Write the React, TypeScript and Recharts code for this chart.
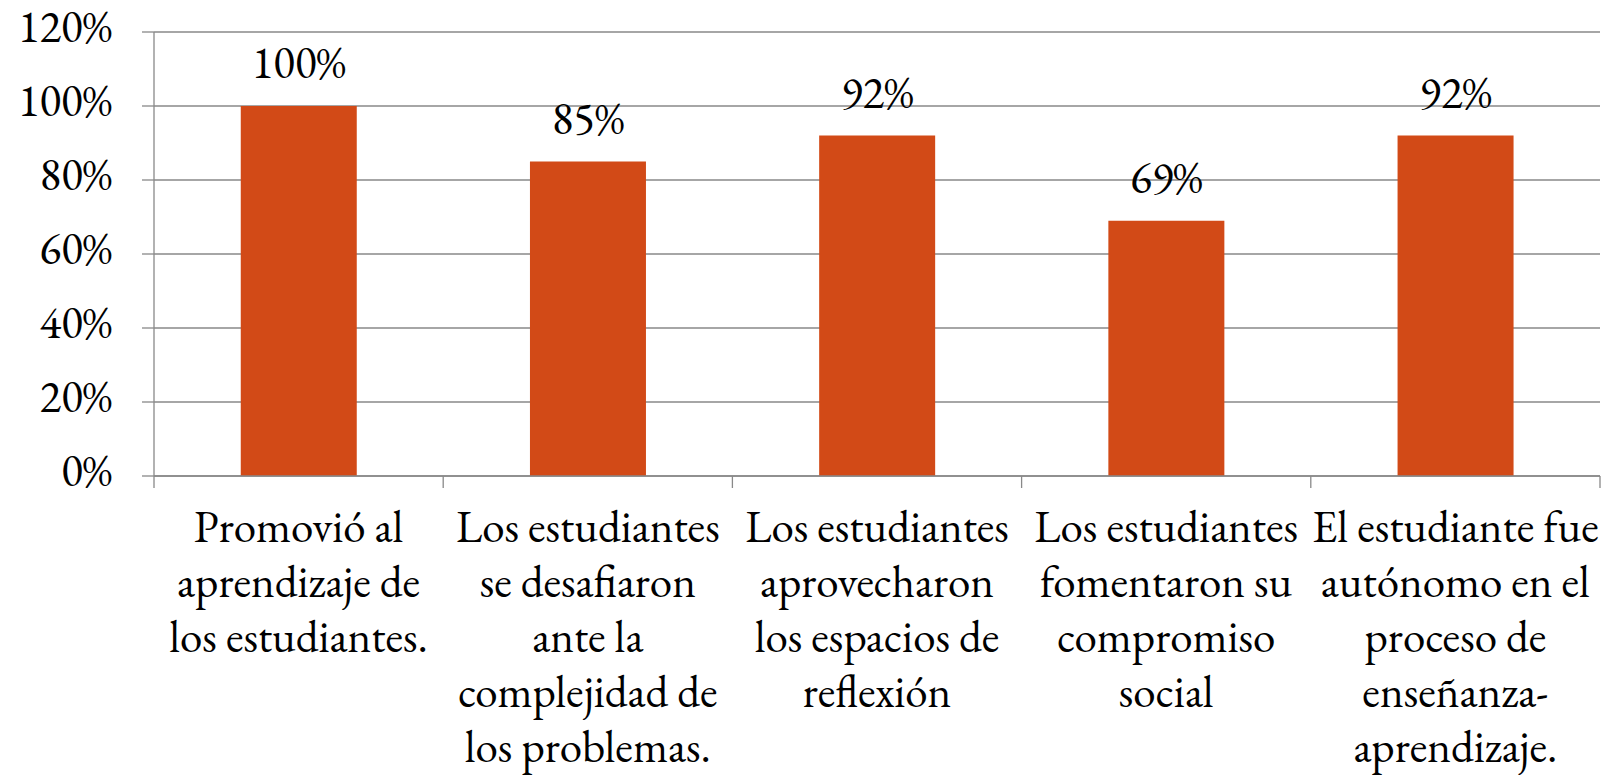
import React from 'react';
import { BarChart, Bar, XAxis, YAxis, CartesianGrid, LabelList } from 'recharts';

const categories = [
  'Promovió al\naprendizaje de\nlos estudiantes.',
  'Los estudiantes\nse desafiaron\nante la\ncomplejidad de\nlos problemas.',
  'Los estudiantes\naprovecharon\nlos espacios de\nreflexión',
  'Los estudiantes\nfomentaron su\ncompromiso\nsocial',
  'El estudiante fue\nautónomo en el\nproceso de\nenseñanza-\naprendizaje.',
];
const values = [100, 85, 92, 69, 92];
const yTicks = [0, 20, 40, 60, 80, 100, 120];

const data = categories.map((c, i) => ({ name: c, value: values[i] }));

const FONT = 'EB Garamond';
const FS = 45;
const GRAY = '#898989';
const textStyle = { fontFamily: FONT, fontSize: FS, fill: '#000' };

const YTick = (props: any) => {
  const { x, y, payload } = props;
  return (
    <text x={x} y={y} dy={10} textAnchor="end" fontFamily={FONT} fontSize={FS} fill="#000" style={textStyle}>
      {payload.value}%
    </text>
  );
};

const XTick = (props: any) => {
  const { x, y, payload, index, visibleTicksCount } = props;
  const lines = String(payload.value).split('\n');
  const half = payload.offset ?? 0;
  const isLast = index === visibleTicksCount - 1;
  return (
    <g>
      <line x1={x - half} x2={x - half} y1={y} y2={y + 12} stroke={GRAY} strokeWidth={1.3} />
      {isLast && <line x1={x + half} x2={x + half} y1={y} y2={y + 12} stroke={GRAY} strokeWidth={1.3} />}
      <text x={x} y={y + 66} textAnchor="middle" fontFamily={FONT} fontSize={FS} fill="#000" style={textStyle}>
        {lines.map((l, i) => (
          <tspan key={i} x={x} dy={i === 0 ? 0 : 55}>
            {l}
          </tspan>
        ))}
      </text>
    </g>
  );
};

const BarLabel = (props: any) => {
  const { x, y, width, value } = props;
  return (
    <text x={x + width / 2} y={y - 28} textAnchor="middle" fontFamily={FONT} fontSize={FS} fill="#000" style={textStyle}>
      {value}%
    </text>
  );
};

export default function App() {
  return (
    <div style={{ position: 'absolute', left: 0, top: 0, width: 1612, height: 775, background: '#fff', fontFamily: FONT }}>
      <BarChart
        width={1612}
        height={775}
        data={data}
        margin={{ top: 32, right: 12, left: 0, bottom: 0 }}
        barCategoryGap="30%"
      >
        <CartesianGrid vertical={false} stroke={GRAY} strokeWidth={1.3} />
        <XAxis
          dataKey="name"
          height={299}
          interval={0}
          tickLine={false}
          tickSize={0}
          tickMargin={0}
          axisLine={{ stroke: GRAY, strokeWidth: 1.3 }}
          tick={<XTick />}
        />
        <YAxis
          width={154}
          domain={[0, 120]}
          ticks={yTicks}
          interval={0}
          tickSize={12}
          tickMargin={30}
          tickLine={{ stroke: GRAY, strokeWidth: 1.3 }}
          axisLine={{ stroke: GRAY, strokeWidth: 1.3 }}
          tick={<YTick />}
        />
        <Bar dataKey="value" fill="#D24A17" isAnimationActive={false}>
          <LabelList dataKey="value" content={<BarLabel />} />
        </Bar>
      </BarChart>
    </div>
  );
}
